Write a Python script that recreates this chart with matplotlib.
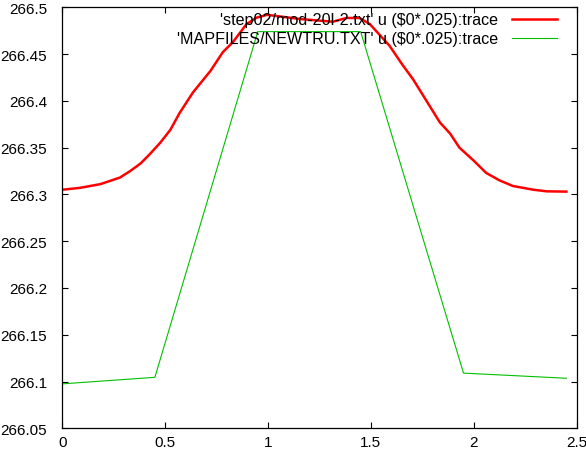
import matplotlib
matplotlib.use("Agg")
import matplotlib.pyplot as plt

plt.rcParams['font.family'] = ['Liberation Sans', 'DejaVu Sans']
plt.rcParams['font.size'] = 11

# red trace, step02/mod-20l-2.txt
red_x = [0, 0.085, 0.185, 0.28, 0.33, 0.38, 0.425, 0.475, 0.525, 0.57, 0.635,
         0.72, 0.78, 0.83, 0.895, 0.945, 0.995, 1.155, 1.315, 1.38, 1.445, 1.495,
         1.59, 1.655, 1.705, 1.77, 1.835, 1.885, 1.93, 2.0, 2.06, 2.125, 2.19,
         2.29, 2.355, 2.45]
red_y = [266.305, 266.307, 266.311, 266.318, 266.325, 266.333, 266.343, 266.355,
         266.369, 266.387, 266.409, 266.432, 266.452, 266.463, 266.482, 266.489,
         266.492, 266.4875, 266.4846, 266.4886, 266.4886, 266.482, 266.459,
         266.438, 266.423, 266.400, 266.377, 266.365, 266.350, 266.336, 266.323,
         266.315, 266.309, 266.305, 266.3033, 266.303]

# green trace, MAPFILES/NEWTRU.TXT
green_x = [0, 0.45, 0.95, 1.45, 1.95, 2.45]
green_y = [266.0975, 266.1045, 266.474, 266.474, 266.109, 266.1035]

red_label = "'step02/mod-20l-2.txt' u ($0*.025):trace"
green_label = "'MAPFILES/NEWTRU.TXT' u ($0*.025):trace"

xticks = [0, 0.5, 1, 1.5, 2, 2.5]
xtick_labels = ['0', '0.5', '1', '1.5', '2', '2.5']
yticks = [266.05, 266.1, 266.15, 266.2, 266.25, 266.3, 266.35, 266.4, 266.45, 266.5]
ytick_labels = ['266.05', '266.1', '266.15', '266.2', '266.25', '266.3',
                '266.35', '266.4', '266.45', '266.5']

fig = plt.figure(figsize=(5.86, 4.52), dpi=100)
ax = fig.add_axes([0.1063, 0.0502, 0.8778, 0.9314])

ax.plot(red_x, red_y, color='#ff0000', lw=1.8)
ax.plot(green_x, green_y, color='#00c000', lw=0.8)

ax.set_xlim(0, 2.5)
ax.set_ylim(266.05, 266.5)
ax.set_xticks(xticks)
ax.set_xticklabels(xtick_labels)
ax.set_yticks(yticks)
ax.set_yticklabels(ytick_labels)
ax.tick_params(direction='in', length=4, width=0.8, top=True, right=True)
ax.tick_params(axis='y', pad=11)
ax.tick_params(axis='x', pad=5)
for s in ax.spines.values():
    s.set_linewidth(0.9)

# gnuplot style key: right-aligned text, sample line after it
ax.text(0.8464, 0.972, red_label, transform=ax.transAxes, ha='right', va='center',
        fontsize=11.6)
ax.plot([0.8737, 0.961], [0.972, 0.972], transform=ax.transAxes, color='#ff0000', lw=1.8)
ax.text(0.8464, 0.927, green_label, transform=ax.transAxes, ha='right', va='center',
        fontsize=11.6)
ax.plot([0.8737, 0.961], [0.927, 0.927], transform=ax.transAxes, color='#00c000', lw=0.8)

fig.savefig('out.png', dpi=100)
